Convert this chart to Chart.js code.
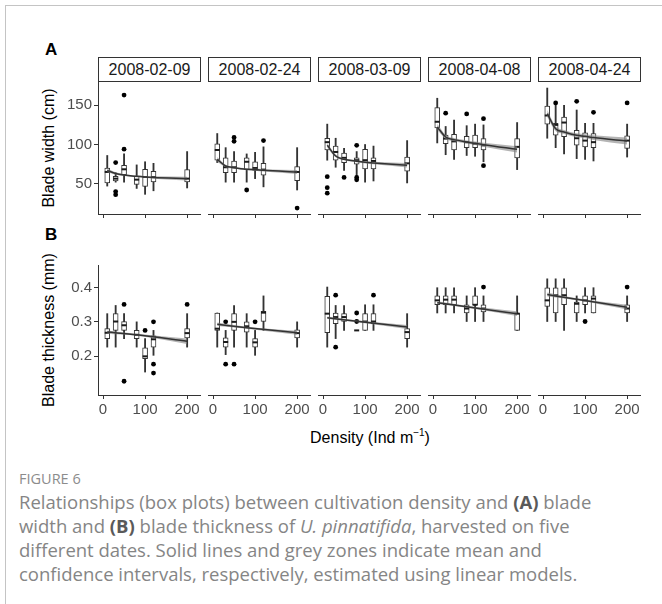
<!DOCTYPE html>
<html>
<head>
<meta charset="utf-8">
<script src="https://cdn.jsdelivr.net/npm/chart.js@4.4.1/dist/chart.umd.min.js"></script>
<style>
  body { margin: 0; width: 662px; height: 604px; position: relative; overflow: hidden; background: #fff;
         font-family: "Liberation Sans", Arial, sans-serif; }
  .frame { position: absolute; left: 5px; top: 5px; width: 700px; height: 700px;
           border-left: 1.5px solid #c4c4c4; border-top: 1.5px solid #c4c4c4; }
  canvas { position: absolute; }
  .strip { position: absolute; top: 57px; width: 103px; height: 25px; box-sizing: border-box;
           border: 1px solid #333; text-align: center; line-height: 23px; font-size: 16px; color: #1a1a1a; }
  .tag { position: absolute; left: 45px; font-size: 17px; font-weight: bold; line-height: 17px; color: #000; }
  .ytitle { position: absolute; left: -51px; width: 200px; height: 20px; line-height: 20px; text-align: center;
            font-size: 16px; color: #000; transform: rotate(-90deg); }
  .xtitle { position: absolute; left: 270px; top: 428px; width: 200px; height: 20px; line-height: 20px;
            text-align: center; font-size: 16px; color: #000; }
  .xtitle sup { font-size: 10px; vertical-align: 7px; line-height: 0; }
  .figno { position: absolute; left: 19px; top: 469px; font-family: "Open Sans", sans-serif; font-size: 14.5px;
           color: #8c8c8c; }
  .caption { position: absolute; left: 19px; top: 490px; width: 640px; white-space: nowrap;
             font-family: "Open Sans", sans-serif; font-size: 18.5px; line-height: 24px; color: #858585; }
  .caption b { color: #5a5a5a; }
</style>
</head>
<body>
<div class="frame"></div>

<div class="tag" style="top:41px">A</div>
<div class="tag" style="top:226px">B</div>
<div class="ytitle" style="top:138px">Blade width (cm)</div>
<div class="ytitle" style="top:320px">Blade thickness (mm)</div>
<div class="xtitle">Density (Ind m<sup>−1</sup>)</div>

<div class="figno">FIGURE 6</div>
<div class="caption">Relationships (box plots) between cultivation density and <b>(A)</b> blade<br>width and <b>(B)</b> blade thickness of <i>U. pinnatifida</i>, harvested on five<br>different dates. Solid lines and grey zones indicate mean and<br>confidence intervals, respectively, estimated using linear models.</div>

<script>
const dates = ["2008-02-09", "2008-02-24", "2008-03-09", "2008-04-08", "2008-04-24"];
const densities = [10, 30, 50, 80, 100, 120, 200];
const lineDensities = [10, 80, 200];
const xTicks = [0, 100, 200];
const widthTicks = [50, 100, 150];
const thickTicks = [0.2, 0.3, 0.4];

// [lower whisker, Q1, median, Q3, upper whisker] for each density
const widthBoxes = [
    [[47, 51, 65, 70, 86], [52, 53.5, 56.5, 59.4, 64], [52, 61.6, 68.4, 73.5, 88], [44, 49.2, 55.2, 59.4, 74],
     [36.5, 46.7, 58.6, 68.4, 78], [41, 52.2, 58.6, 65.8, 76], [44.6, 52.2, 56.5, 67.9, 91]],
    [[77, 80, 93, 101, 114], [52, 64, 71, 83, 96], [52, 64, 71, 79, 91], [52, 68, 78, 83, 88],
     [56.5, 67, 70, 78, 90], [46, 61, 68, 76, 97], [42, 54, 65, 72, 96]],
    [[80, 93, 103, 108, 126], [71, 80, 90.5, 98, 108], [67, 77, 83, 89, 95], [59, 75, 80, 83, 91],
     [52, 69, 80, 94, 100], [53.5, 69, 79, 83, 98], [51, 66, 76, 84, 105]],
    [[102, 121, 129, 147, 159], [87, 101, 107.5, 112, 123], [81, 93, 104, 113, 131], [86, 96, 103, 110.5, 124],
     [85, 96, 101, 112, 126], [78, 93, 99, 107.5, 125], [68, 83, 97, 107.5, 128]],
    [[108, 126, 137, 149, 172], [96, 112, 125, 127, 150], [88, 110, 128, 135, 150], [82, 99, 108, 118, 144],
     [81, 97, 105, 115, 127], [79, 96, 103, 114, 127], [84, 95, 105, 111, 126]]
];

// [density, value]
const widthOutliers = [
    [[30, 77], [30, 40], [30, 36], [50, 163], [50, 94]],
    [[50, 109], [50, 104], [80, 42], [120, 105], [200, 19]],
    [[10, 59], [10, 45], [10, 38], [50, 58], [80, 99], [80, 58], [80, 55]],
    [[30, 140], [80, 139], [120, 133], [120, 73]],
    [[30, 153], [80, 155], [120, 141], [200, 153]]
];

const widthFit = [
    [67, 63, 61, 59.4, 58.6, 58, 56.5],
    [81, 72.6, 70.5, 68.4, 68, 67.1, 65],
    [99, 85.4, 81.1, 78.6, 77.3, 76.4, 73.5],
    [122.4, 109.6, 106.2, 103.2, 101.5, 99.8, 93.9],
    [139.4, 120.2, 116, 111.7, 110.5, 108.8, 104.5]
];
const widthLow = [
    [64.5, 61.5, 59.8, 58.2, 57.3, 56.5, 54],
    [78, 71.1, 69.3, 67.2, 66.7, 65.6, 62.5],
    [96, 83.6, 79.8, 77.3, 75.9, 74.8, 70.7],
    [118.4, 107.1, 104.2, 101.2, 99.3, 97.3, 89.9],
    [134.9, 117.2, 113.5, 109.2, 107.9, 105.8, 100]
];
const widthHigh = [
    [69.5, 64.5, 62.2, 60.6, 59.9, 59.5, 59],
    [84, 74.1, 71.7, 69.6, 69.3, 68.6, 67.5],
    [102, 87.2, 82.4, 79.9, 78.7, 78, 76.3],
    [126.4, 112.1, 108.2, 105.2, 103.7, 102.3, 97.9],
    [143.9, 123.2, 118.5, 114.2, 113.1, 111.8, 109]
];

const thickBoxes = [
    [[0.226, 0.251, 0.268, 0.280, 0.324], [0.226, 0.275, 0.301, 0.324, 0.348], [0.251, 0.275, 0.290, 0.301, 0.324],
     [0.226, 0.251, 0.262, 0.275, 0.300], [0.153, 0.192, 0.199, 0.224, 0.251], [0.202, 0.226, 0.249, 0.259, 0.275],
     [0.226, 0.253, 0.267, 0.280, 0.324]],
    [[0.226, 0.275, 0.280, 0.326, 0.326], [0.204, 0.226, 0.241, 0.253, 0.275], [0.226, 0.275, 0.300, 0.324, 0.348],
     [0.226, 0.270, 0.287, 0.300, 0.324], [0.202, 0.226, 0.240, 0.251, 0.275], [0.275, 0.301, 0.327, 0.331, 0.376],
     [0.226, 0.253, 0.267, 0.277, 0.300]],
    [[0.226, 0.268, 0.324, 0.375, 0.402], [0.251, 0.295, 0.314, 0.326, 0.348], [0.275, 0.301, 0.314, 0.324, 0.348],
     [0.275, 0.275, 0.275, 0.275, 0.275], [0.275, 0.275, 0.301, 0.324, 0.350], [0.275, 0.295, 0.301, 0.324, 0.350],
     [0.226, 0.251, 0.270, 0.280, 0.324]],
    [[0.326, 0.350, 0.363, 0.376, 0.400], [0.326, 0.350, 0.365, 0.376, 0.400], [0.326, 0.350, 0.365, 0.376, 0.400],
     [0.301, 0.326, 0.339, 0.350, 0.376], [0.301, 0.350, 0.350, 0.376, 0.400], [0.301, 0.329, 0.339, 0.350, 0.376],
     [0.275, 0.275, 0.324, 0.326, 0.376]],
    [[0.301, 0.345, 0.363, 0.400, 0.426], [0.301, 0.326, 0.378, 0.400, 0.426], [0.275, 0.350, 0.378, 0.400, 0.426],
     [0.301, 0.326, 0.353, 0.358, 0.376], [0.326, 0.350, 0.363, 0.376, 0.400], [0.326, 0.326, 0.368, 0.376, 0.400],
     [0.301, 0.326, 0.339, 0.350, 0.376]]
];

const thickOutliers = [
    [[50, 0.351], [50, 0.126], [100, 0.275], [120, 0.300], [120, 0.176], [120, 0.150], [200, 0.351]],
    [[30, 0.300], [30, 0.176], [50, 0.176], [100, 0.300]],
    [[30, 0.378], [30, 0.226], [80, 0.326], [80, 0.301], [120, 0.378]],
    [[120, 0.402]],
    [[100, 0.301], [200, 0.402]]
];

const thickFit = [
    [0.270, 0.262, 0.243],
    [0.293, 0.283, 0.268],
    [0.312, 0.302, 0.285],
    [0.356, 0.344, 0.324],
    [0.380, 0.366, 0.343]
];
const thickLow = [
    [0.265, 0.259, 0.235],
    [0.288, 0.280, 0.262],
    [0.308, 0.299, 0.279],
    [0.352, 0.341, 0.317],
    [0.374, 0.363, 0.336]
];
const thickHigh = [
    [0.275, 0.265, 0.251],
    [0.298, 0.286, 0.274],
    [0.316, 0.305, 0.291],
    [0.360, 0.347, 0.331],
    [0.386, 0.369, 0.350]
];

const panelLeft = [98, 208, 318, 428, 538];
const panelWidth = 103;
const yAxisWidth = 40;
const xAxisHeight = 30;
const fontFamily = "'Liberation Sans', Arial, sans-serif";

const rows = [
    {
        top: 82, height: 132, showLabels: false,
        min: 11.4, max: 179.7, ticks: widthTicks, format: v => String(v),
        boxes: widthBoxes, outliers: widthOutliers,
        fitX: densities, fit: widthFit, low: widthLow, high: widthHigh
    },
    {
        top: 265, height: 130, showLabels: true,
        min: 0.0858, max: 0.4665, ticks: thickTicks, format: v => v.toFixed(1),
        boxes: thickBoxes, outliers: thickOutliers,
        fitX: lineDensities, fit: thickFit, low: thickLow, high: thickHigh
    }
];

function toPoints(xs, ys) {
    return ys.map((y, k) => ({ x: xs[k], y: y }));
}

function makePanel(row, i) {

    const withAxis = i === 0;
    const canvas = document.createElement("canvas");
    const width = panelWidth + (withAxis ? yAxisWidth : 0);
    const height = row.height + xAxisHeight;

    canvas.width = width;
    canvas.height = height;
    canvas.style.left = (panelLeft[i] - (withAxis ? yAxisWidth : 0)) + "px";
    canvas.style.top = row.top + "px";
    document.body.appendChild(canvas);

    const stats = row.boxes[i];

    const whiskers = stats.map((s, k) => ({ x: densities[k], y: [s[0], s[4]] }));
    const boxes = stats.map((s, k) => ({ x: densities[k], y: [s[1], s[3]] }));
    const medians = stats.map((s, k) => ({ x: densities[k], y: s[2] }));
    const outliers = row.outliers[i].map(p => ({ x: p[0], y: p[1] }));

    new Chart(canvas, {

        type: "bar",

        data: {

            datasets: [
                {
                    data: whiskers,
                    backgroundColor: "#333333",
                    barThickness: 1.2,
                    grouped: false,
                    order: 6
                },
                {
                    data: boxes,
                    backgroundColor: "#ffffff",
                    borderColor: "#333333",
                    borderWidth: 1,
                    borderSkipped: false,
                    barThickness: 5,
                    grouped: false,
                    order: 5
                },
                {
                    type: "scatter",
                    data: medians,
                    pointStyle: "line",
                    pointRadius: 2.5,
                    borderColor: "#1a1a1a",
                    borderWidth: 2,
                    order: 4
                },
                {
                    type: "scatter",
                    data: outliers,
                    pointRadius: 2.4,
                    backgroundColor: "#000000",
                    borderWidth: 0,
                    order: 3
                },
                {
                    type: "line",
                    data: toPoints(row.fitX, row.low[i]),
                    borderColor: "rgba(0,0,0,0)",
                    pointRadius: 0,
                    cubicInterpolationMode: "monotone",
                    fill: false,
                    order: 2
                },
                {
                    type: "line",
                    data: toPoints(row.fitX, row.high[i]),
                    borderColor: "rgba(0,0,0,0)",
                    backgroundColor: "rgba(130,130,130,0.6)",
                    pointRadius: 0,
                    cubicInterpolationMode: "monotone",
                    fill: "-1",
                    order: 2
                },
                {
                    type: "line",
                    data: toPoints(row.fitX, row.fit[i]),
                    borderColor: "#333333",
                    borderWidth: 1.5,
                    pointRadius: 0,
                    cubicInterpolationMode: "monotone",
                    fill: false,
                    order: 1
                }
            ]

        },

        options: {

            responsive: false,
            animation: false,
            events: [],
            layout: { padding: 0, autoPadding: false },

            plugins: {
                legend: { display: false },
                tooltip: { enabled: false }
            },

            scales: {

                x: {
                    type: "linear",
                    display: true,
                    min: -12,
                    max: 233,
                    offset: false,
                    grid: {
                        offset: false,
                        drawOnChartArea: false,
                        drawTicks: true,
                        tickLength: 4,
                        color: "#333333"
                    },
                    border: { display: true, color: "#333333", width: 1 },
                    afterBuildTicks: s => { s.ticks = xTicks.map(v => ({ value: v })); },
                    afterFit: s => {
                        s.height = xAxisHeight;
                        s.paddingLeft = 0;
                        s.paddingRight = 0;
                    },
                    ticks: {
                        display: true,
                        autoSkip: false,
                        maxRotation: 0,
                        padding: 2,
                        color: row.showLabels ? "#4d4d4d" : "rgba(0,0,0,0)",
                        font: { family: fontFamily, size: 15 }
                    }
                },

                // every panel keeps a y scale; only the first one shows it
                y: {
                    type: "linear",
                    display: true,
                    min: row.min,
                    max: row.max,
                    grid: {
                        display: withAxis,
                        drawOnChartArea: false,
                        drawTicks: true,
                        tickLength: 4,
                        color: "#333333"
                    },
                    border: { display: withAxis, color: "#333333", width: 1 },
                    afterBuildTicks: s => { s.ticks = row.ticks.map(v => ({ value: v })); },
                    afterFit: s => {
                        s.width = withAxis ? yAxisWidth : 0;
                        s.paddingTop = 0;
                        s.paddingBottom = 0;
                    },
                    ticks: {
                        display: withAxis,
                        padding: 2,
                        color: "#4d4d4d",
                        font: { family: fontFamily, size: 15 },
                        callback: v => row.format(v)
                    }
                }

            }

        }

    });

}

dates.forEach((d, i) => {
    const strip = document.createElement("div");
    strip.className = "strip";
    strip.style.left = panelLeft[i] + "px";
    strip.textContent = d;
    document.body.appendChild(strip);
});

rows.forEach(row => {
    for (let i = 0; i < dates.length; i++) {
        makePanel(row, i);
    }
});
</script>
</body>
</html>
